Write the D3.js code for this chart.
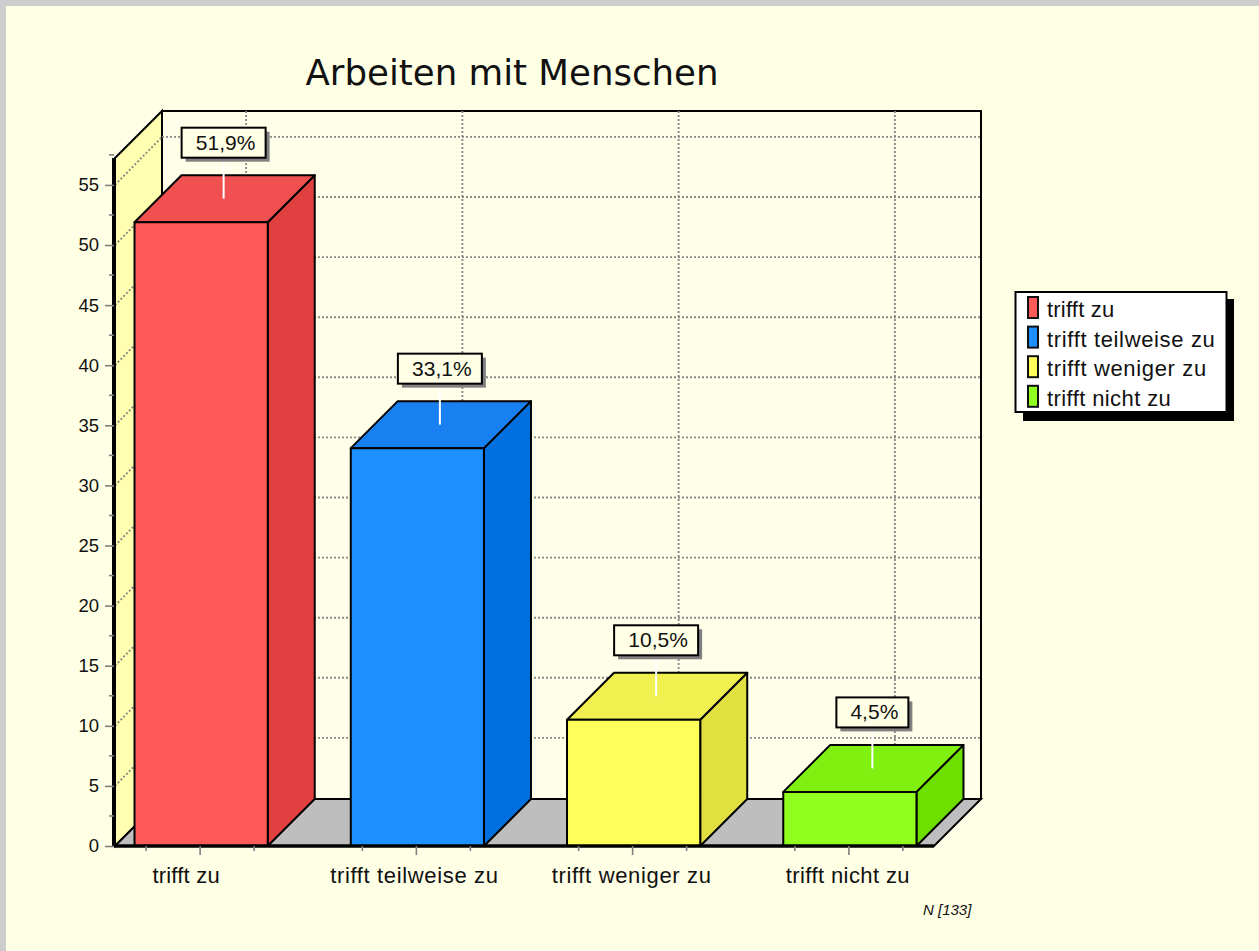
<!DOCTYPE html>
<html><head><meta charset="utf-8">
<script src="https://cdn.jsdelivr.net/npm/d3@7"></script>
<style>
html,body{margin:0;padding:0;background:#cdcdcd;overflow:hidden}
svg{display:block}
text{font-family:"Liberation Sans",Arial,sans-serif;fill:#111}
</style></head><body><svg id="c" width="1259" height="951"></svg>
<script>
const titleText = "Arbeiten mit Menschen";
const categories = ["trifft zu","trifft teilweise zu","trifft weniger zu","trifft nicht zu"];
const values = [51.9,33.1,10.5,4.5];
const valueLabels = ["51,9%","33,1%","10,5%","4,5%"];
const frontColors = ["#ff5a5a","#1e90ff","#ffff5a","#90ff20"];
const topColors = ["#f05050","#1880f0","#f0f050","#80f010"];
const sideColors = ["#e04040","#0070e0","#e0e040","#6ee000"];
const yTicks = [0,5,10,15,20,25,30,35,40,45,50,55];
const yMinorTicks = [2.5,7.5,12.5,17.5,22.5,27.5,32.5,37.5,42.5,47.5,52.5,57.5];
const noteText = "N [133]";

const svg = d3.select("#c");
const D = 47;                       // 3D depth offset
const L = 115, R = 934, B = 846;    // front plane
const y = d3.scaleLinear().domain([0,57.24]).range([B,158]);
const x = d3.scaleBand().domain(categories).range([93,958]).paddingInner(0.384).paddingOuter(0.192);
const cx = c => x(c)+x.bandwidth()/2;
const T = y.range()[1];
const poly = pts => pts.map(p=>p.join(",")).join(" ");
const spacing = [0.2,0.65,0.65,0.4];

svg.append("rect").attr("x",6).attr("y",6).attr("width",1253).attr("height",945).attr("fill","#ffffe5");

// back wall, side wall, floor
svg.append("polygon").attr("points",poly([[L+D,T-D],[R+D,T-D],[R+D,B-D],[L+D,B-D]])).attr("fill","#ffffe9").attr("stroke","#000").attr("stroke-width",2);
svg.append("polygon").attr("points",poly([[L,T],[L+D,T-D],[L+D,B-D],[L,B]])).attr("fill","#ffffaf").attr("stroke","#000").attr("stroke-width",2);
svg.append("polygon").attr("points",poly([[L,B],[L+D,B-D],[R+D,B-D],[R,B]])).attr("fill","#bebebe").attr("stroke","#000").attr("stroke-width",2);

// grid
const grid = svg.append("g").attr("fill","none").attr("stroke","#888").attr("stroke-width",1.9).attr("stroke-dasharray","2 2");
yTicks.filter(t=>t>0).forEach(t=>{
  grid.append("line").attr("x1",L).attr("y1",y(t)).attr("x2",L+D).attr("y2",y(t)-D-1);
  grid.append("line").attr("x1",L+D).attr("y1",y(t)-D-1).attr("x2",R+D).attr("y2",y(t)-D-1);
});
categories.forEach(c=>{
  grid.append("line").attr("x1",cx(c)+D-2).attr("x2",cx(c)+D-2).attr("y1",T-D).attr("y2",B-D);
});

// bars
const bars = svg.append("g").attr("stroke","#000").attr("stroke-width",2).attr("stroke-linejoin","round");
categories.forEach((c,i)=>{
  const x0=x(c), x1=x0+x.bandwidth(), yt=y(values[i]);
  bars.append("polygon").attr("points",poly([[x1,yt],[x1+D,yt-D],[x1+D,B-D],[x1,B]])).attr("fill",sideColors[i]);
  bars.append("polygon").attr("points",poly([[x0,yt],[x0+D,yt-D],[x1+D,yt-D],[x1,yt]])).attr("fill",topColors[i]);
  bars.append("rect").attr("x",x0).attr("y",yt).attr("width",x.bandwidth()).attr("height",B-yt).attr("fill",frontColors[i]);
});

// axes
svg.append("line").attr("x1",L).attr("x2",R).attr("y1",B).attr("y2",B).attr("stroke","#000").attr("stroke-width",3.5);
svg.append("line").attr("x1",L-1).attr("x2",L-1).attr("y1",T).attr("y2",B+1).attr("stroke","#000").attr("stroke-width",4);

const yAxis = svg.append("g").attr("transform",`translate(${L-1},0)`)
  .call(d3.axisLeft(y).tickValues(yTicks).tickSize(9).tickPadding(6));
yAxis.select(".domain").remove();
yAxis.selectAll("line").attr("stroke","#808080").attr("stroke-width",1.6);
yAxis.selectAll("text").attr("font-size",18.5).attr("fill","#111").style("font-family",'"Liberation Sans"');
svg.append("g").selectAll("line").data(yMinorTicks).join("line")
  .attr("x1",L-6).attr("x2",L-1).attr("y1",d=>y(d)).attr("y2",d=>y(d)).attr("stroke","#808080").attr("stroke-width",1.6);

const xAxis = svg.append("g").attr("transform",`translate(-1,${B})`)
  .call(d3.axisBottom(x).tickSize(9).tickPadding(9));
xAxis.select(".domain").remove();
xAxis.selectAll("line").attr("stroke","#808080").attr("stroke-width",1.6);
const labelShift = [-14,-2,-1,-1];
xAxis.selectAll("text").attr("font-size",22).attr("fill","#111").style("font-family",'"Liberation Sans"')
  .style("letter-spacing",(d,i)=>spacing[i]+"px")
  .attr("dx",(d,i)=>labelShift[i]).attr("y",21).attr("dy","0.71em");
svg.append("g").selectAll("line").data(categories.flatMap(c=>[cx(c)-54,cx(c)+54])).join("line")
  .attr("x1",d=>d-1).attr("x2",d=>d-1).attr("y1",B).attr("y2",B+5).attr("stroke","#808080").attr("stroke-width",1.6);

// value callouts
categories.forEach((c,i)=>{
  const px = cx(c)+D/2-1, py = y(values[i])-D/2;
  const w = valueLabels[i].length>4 ? 84 : 72, h = 30;
  const bx = px-w/2, by = py-71;
  svg.append("line").attr("x1",px).attr("x2",px).attr("y1",by+h).attr("y2",py).attr("stroke","#fff").attr("stroke-width",2);
  svg.append("rect").attr("x",bx+4).attr("y",by+4).attr("width",w).attr("height",h).attr("fill","#808080");
  svg.append("rect").attr("x",bx).attr("y",by).attr("width",w).attr("height",h).attr("fill","#ffffe5").attr("stroke","#000").attr("stroke-width",2);
  svg.append("text").attr("x",bx+w/2+2).attr("y",by+h/2+7).attr("text-anchor","middle").attr("font-size",21).text(valueLabels[i]);
});

// title
svg.append("text").attr("x",512).attr("y",85).attr("text-anchor","middle").attr("font-size",35.6)
  .style("font-family",'"DejaVu Sans"').text(titleText);

// legend
const lg = svg.append("g");
lg.append("rect").attr("x",1023).attr("y",299).attr("width",211).attr("height",122).attr("fill","#000");
lg.append("rect").attr("x",1015.5).attr("y",292).attr("width",211).attr("height",120).attr("fill","#fff").attr("stroke","#000").attr("stroke-width",2);
categories.forEach((c,i)=>{
  const ly = 297+i*29.6;
  lg.append("rect").attr("x",1028).attr("y",ly).attr("width",10).attr("height",21).attr("fill",frontColors[i]).attr("stroke","#111").attr("stroke-width",2);
  lg.append("text").attr("x",1047).attr("y",ly+20).attr("font-size",22).style("letter-spacing",spacing[i]+"px").text(c);
});

svg.append("text").attr("x",923).attr("y",915).attr("font-size",15).attr("font-style","italic").text(noteText);
</script></body></html>
